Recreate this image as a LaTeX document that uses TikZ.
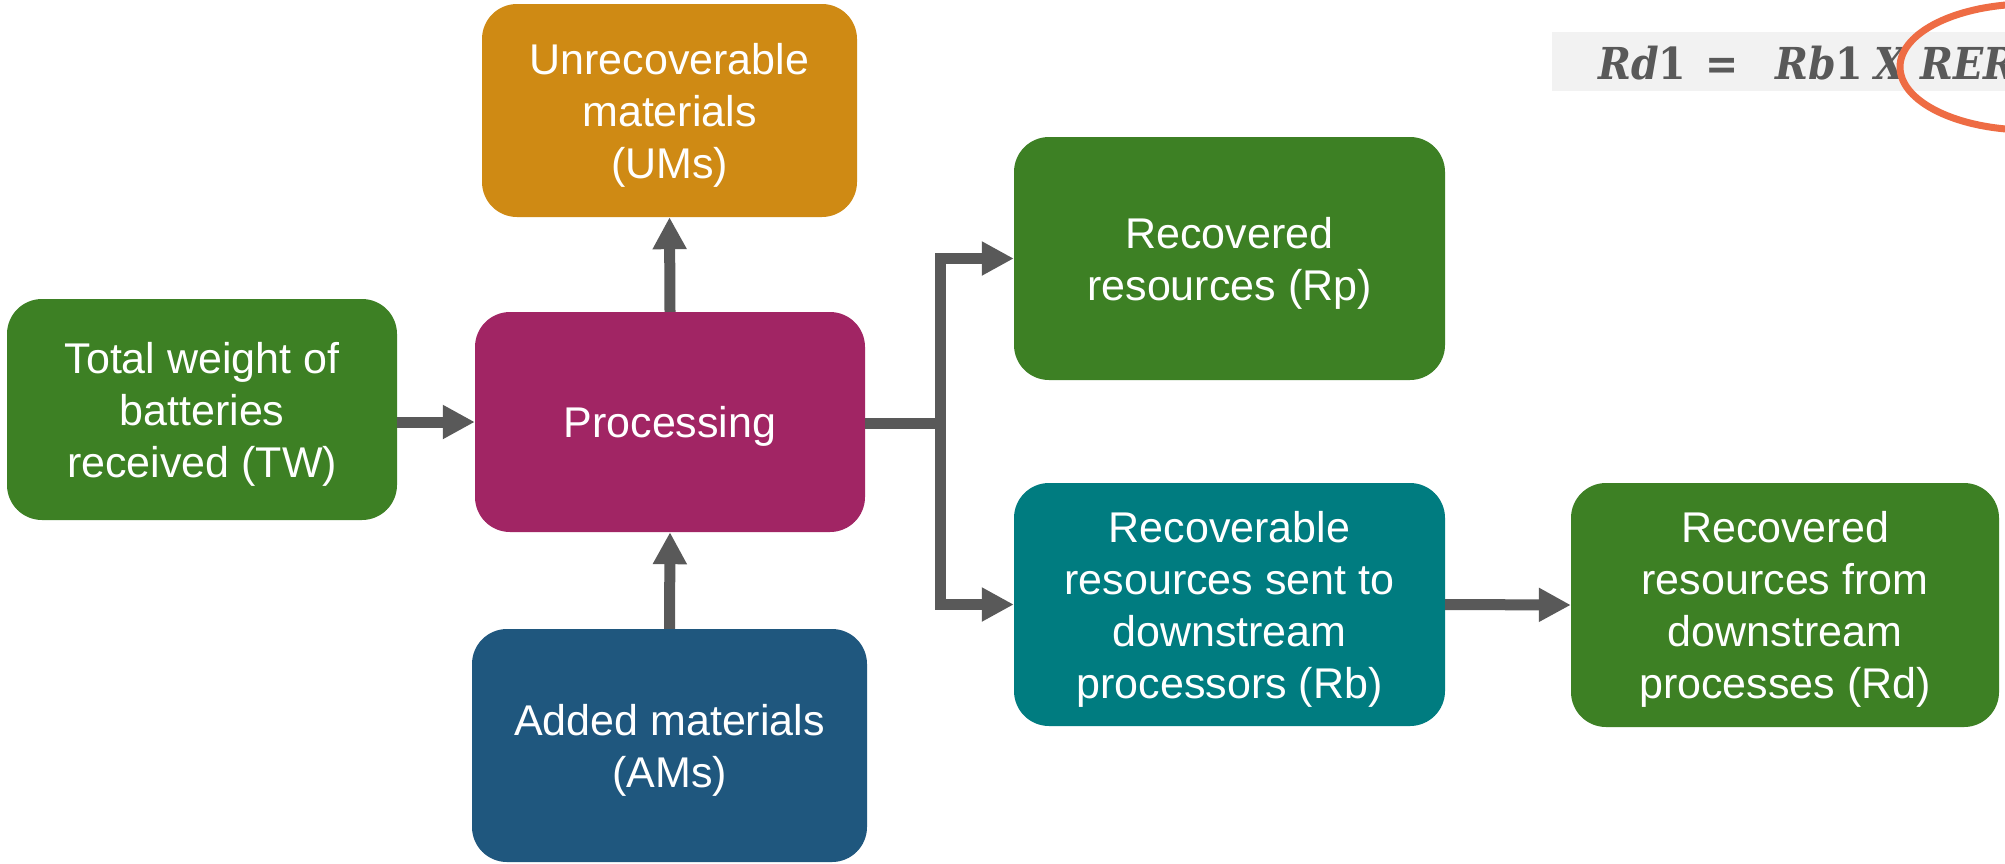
\documentclass[tikz,border=0pt]{standalone}
\usepackage{fontspec}
\setmainfont{Liberation Sans}
\newfontfamily\formfont[FakeStretch=0.9]{DejaVu Serif}
\usetikzlibrary{arrows.meta}
\definecolor{cgreen}{RGB}{61,128,36}
\definecolor{corange}{RGB}{207,138,20}
\definecolor{cmagenta}{RGB}{161,37,100}
\definecolor{cblue}{RGB}{31,87,126}
\definecolor{cteal}{RGB}{0,124,128}
\definecolor{cgray}{RGB}{89,89,89}
\definecolor{cform}{RGB}{242,242,242}
\definecolor{cring}{RGB}{238,108,68}
\begin{document}
\begin{tikzpicture}[x=1pt,y=-1pt,
  box/.style={rectangle, rounded corners=35pt, inner sep=0pt, text=white, align=center,
    text depth=0pt, font=\fontsize{43}{52}\selectfont},
  conn/.style={draw=cgray, line width=11pt, -{Triangle[length=32pt,width=32pt]}},
  plainline/.style={draw=cgray, line width=11pt},
  formtext/.style={anchor=base west, inner sep=0pt, text=cgray, font=\formfont\fontsize{44}{50}\selectfont}]
\useasboundingbox (0,0) rectangle (2005,863);
\fill[white] (0,0) rectangle (2005,863);
% boxes
\node[box, fill=cgreen, minimum width=390pt, minimum height=221pt] (TW) at (202,409.5) {Total weight of\\batteries\\received (TW)};
\node[box, fill=cmagenta, minimum width=390pt, minimum height=220pt] (P) at (670,422) {Processing};
\node[box, fill=corange, minimum width=375pt, minimum height=213pt] (UM) at (669.5,110.5) {Unrecoverable\\materials\\(UMs)};
\node[box, fill=cblue, minimum width=395pt, minimum height=233pt] (AM) at (669.5,745.5) {Added materials\\(AMs)};
\node[box, fill=cgreen, minimum width=431pt, minimum height=243pt] (Rp) at (1229.5,258.5) {Recovered\\resources (Rp)};
\node[box, fill=cteal, minimum width=431pt, minimum height=243pt] (Rb) at (1229.5,604.5) {Recoverable\\resources sent to\\downstream\\processors (Rb)};
\node[box, fill=cgreen, minimum width=428pt, minimum height=244pt] (Rd) at (1785,605) {Recovered\\resources from\\downstream\\processes (Rd)};
% connectors
\coordinate (J) at (940,423);
\draw[conn] (TW.east |- P.west) -- (P.west);
\draw[conn] (P.north) -- (UM.south);
\draw[conn] (AM.north) -- (P.south);
\draw[plainline] (P.east |- J) -- ([xshift=5.5pt]J);
\draw[conn, line join=miter] (J) |- (Rp.west);
\draw[conn, line join=miter] (J) |- (Rb.west);
\draw[conn] (Rb.east) -- (Rd.west);
% formula
\fill[cform] (1552,32) rectangle (2010,91);
\node[formtext] (f1) at (1598,79) {\textbf{\textit{Rd}}\textbf{1}};
\node[formtext] (f2) at (1705,79) {\textbf{=}};
\node[formtext] (f3) at (1775,79) {\textbf{\textit{Rb}}\textbf{1}};
\node[formtext] (f4) at (1874,79) {\textbf{\textit{X}}};
\node[formtext] (f5) at (1920,79) {\textbf{\textit{RER}}};
\draw[cring, line width=7pt] (2029,67) ellipse [x radius=129pt, y radius=63pt];
\end{tikzpicture}
\end{document}
